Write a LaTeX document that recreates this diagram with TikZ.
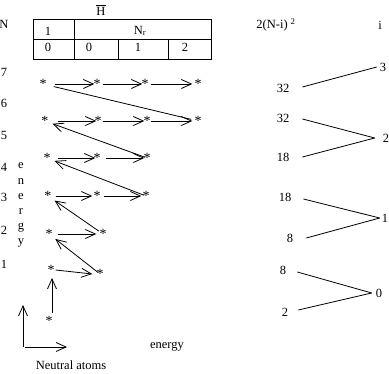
\documentclass[tikz,border=0pt]{standalone}
\usepackage{fontspec}
\setmainfont{Liberation Serif}
\usetikzlibrary{arrows.meta}
\begin{document}
\begin{tikzpicture}[x=1pt,y=-1pt,
  font=\fontsize{12.5}{14}\selectfont,
  every node/.style={inner sep=0pt},
  ln/.style={line width=0.8pt},
  arr/.style={ln,-{Straight Barb[length=10pt,width=9pt]}},
  st/.style={inner sep=0pt,font=\fontsize{14}{14}\selectfont}]
\useasboundingbox[fill=white] (0,0) rectangle (389,374);

% ---- table ----
\node (hbar) at (101,10) {$\overline{\hbox{H}}$};
\draw[ln] (33,19) rectangle (211,59);
\draw[ln] (33,39) -- (211,39);
\draw[ln] (74,19) -- (74,59);
\draw[ln] (118,39) -- (118,59);
\draw[ln] (168,39) -- (168,59);
\node (t11) at (48,31) {1};
\node (t12) at (140,31) {N\textsubscript{r}};
\node (t21) at (48,47) {0};
\node (t22) at (89,47) {0};
\node (t23) at (138,47) {1};
\node (t24) at (185,47) {2};

% ---- left labels ----
\node (lN) at (4,24) {N};
\node (l7) at (4,72) {7};
\node (l6) at (4,103) {6};
\node (l5) at (4,135) {5};
\node (l4) at (4,167) {4};
\node (l3) at (4,197) {3};
\node (l2) at (4,230) {2};
\node (l1) at (4,264) {1};
\node (e1) at (21,166) {e};
\node (e2) at (21,182) {n};
\node (e3) at (21,197) {e};
\node (e4) at (21,212) {r};
\node (e5) at (21,228) {g};
\node (e6) at (21,243) {y};

% ---- stars ----
\node[st] (A1) at (43,84) {*};
\node[st] (A2) at (97,84) {*};
\node[st] (A3) at (145,84) {*};
\node[st] (A4) at (198,84) {*};
\node[st] (B1) at (45,121) {*};
\node[st] (B2) at (98,121) {*};
\node[st] (B3) at (147,121) {*};
\node[st] (B4) at (198,121) {*};
\node[st] (C1) at (47,158) {*};
\node[st] (C2) at (97,158) {*};
\node[st] (C3) at (147,158) {*};
\node[st] (D1) at (48,196) {*};
\node[st] (D2) at (97,196) {*};
\node[st] (D3) at (146,196) {*};
\node[st] (E1) at (49,234) {*};
\node[st] (E2) at (103,234) {*};
\node[st] (F1) at (51,270) {*};
\node[st] (F2) at (100,274) {*};
\node[st] (L) at (49,321) {*};

% row arrows
\draw[arr] ([xshift=8pt]A1.east) -- ([xshift=1pt]A2.west);
\draw[arr] ([xshift=2pt]A2.east) -- ([xshift=1pt]A3.west);
\draw[arr] ([xshift=2pt]A3.east) -- ([xshift=-2pt]A4.west);
\draw[arr] ([xshift=9pt]B1.east) -- ([xshift=2pt]B2.west);
\draw[arr] ([xshift=1pt]B2.east) -- ([xshift=1pt]B3.west);
\draw[arr] ([xshift=0pt]B3.east) -- ([xshift=-2pt]B4.west);
\draw[arr] ([xshift=7pt]C1.east) -- ([xshift=2pt]C2.west);
\draw[arr] ([xshift=5pt]C2.east) -- ([xshift=1pt]C3.west);
\draw[arr] ([xshift=4pt]D1.east) -- ([xshift=-1pt]D2.west);
\draw[arr] ([xshift=3pt]D2.east) -- ([xshift=-1pt]D3.west);
\draw[arr] ([xshift=5pt]E1.east) -- ([xshift=-3pt]E2.west);
\draw[arr] ([xshift=1pt]F1.east) -- ([xshift=-4pt]F2.west);

% diagonals
\draw[ln,shorten <=11pt,shorten >=7pt] (A1.center) -- (B4.center);
\draw[arr,shorten <=2pt,shorten >=8pt] (C3.center) -- (B1.center);
\draw[arr,shorten <=2pt,shorten >=8pt] (D3.center) -- (C1.center);
\draw[arr,shorten <=5pt,shorten >=8pt] (E2.center) -- (D1.center);
\draw[arr,shorten <=3pt,shorten >=8pt] (F2.center) -- (E1.center);
\draw[arr] ([xshift=3pt,yshift=8pt]L.center) -- ([xshift=1pt,yshift=-8pt]F1.center);

% axes
\coordinate (O) at (23,347);
\coordinate (Oy) at (23,305);
\coordinate (Ox) at (67,347);
\draw[arr] (O) -- (Oy);
\draw[arr] ([xshift=2pt]O) -- (Ox);
\node (xl) at (167,347) {energy};
\node (nl) at (71,365) {Neutral atoms};

% ---- right side ----
\node (hd) at (276,25) {2(N-i)\hspace{3pt}\textsuperscript{2}};
\node (hi) at (380,25) {i};
\node (i3) at (383,67) {3};
\node (i2) at (386,138) {2};
\node (i1) at (385,218) {1};
\node (i0) at (379,293) {0};
\node (v1) at (283,88) {32};
\node (v2) at (283,118) {32};
\node (v3) at (283,157) {18};
\node (v4) at (285,197) {18};
\node (v5) at (290,238) {8};
\node (v6) at (283,270) {8};
\node (v7) at (285,312) {2};
\draw[ln] ([xshift=13pt,yshift=1pt]v1.east) -- ([xshift=-3pt]i3.west);
\draw[ln] ([xshift=13pt,yshift=-1pt]v2.east) -- ([xshift=-8pt]i2.west);
\draw[ln] ([xshift=13pt]v3.east) -- ([xshift=-8pt]i2.west);
\draw[ln] ([xshift=12pt,yshift=-2pt]v4.east) -- ([xshift=-2pt]i1.west);
\draw[ln] ([xshift=13pt]v5.east) -- ([xshift=-2pt]i1.west);
\draw[ln] ([xshift=11pt,yshift=-2pt]v6.east) -- ([xshift=-4pt]i0.west);
\draw[ln] ([xshift=10pt,yshift=2pt]v7.east) -- ([xshift=-4pt]i0.west);
\end{tikzpicture}
\end{document}
